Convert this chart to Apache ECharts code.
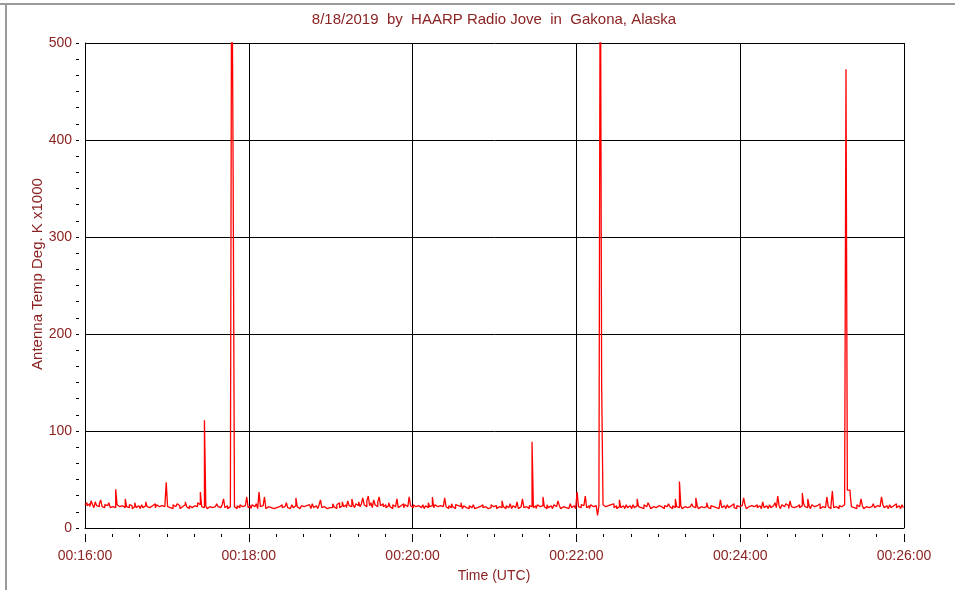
<!DOCTYPE html>
<html>
<head>
<meta charset="utf-8">
<script src="https://cdn.jsdelivr.net/npm/echarts@6/dist/echarts.min.js"></script>
<style>
html,body{margin:0;padding:0;background:#fff;}
#chart{width:955px;height:590px;}
</style>
</head>
<body>
<div id="chart"></div>
<script>
// One sample per second, starting at 00:16:00 UTC
var startLabel = '00:16:00';
var xTickLabels = ['00:16:00','00:18:00','00:20:00','00:22:00','00:24:00','00:26:00'];
var yTickLabels = ['0','100','200','300','400','500'];
var antennaTemp = [
24,26,23,25,22,28,24,21,27,23,22,25,29,22,21,24,23,22,26,21,
22,23,21,40,24,22,20,23,25,21,30,22,21,24,23,20,22,26,21,23,
22,20,24,21,23,27,22,21,20,23,22,25,21,24,22,20,23,21,22,24,
47,22,21,23,20,24,22,21,25,23,20,22,21,24,27,22,20,23,21,22,
23,21,22,26,24,37,22,21,111,23,20,22,24,21,23,22,20,25,22,21,
22,24,30,21,23,20,22,21,650,373,22,20,23,21,24,22,20,23,21,32,
21,23,20,24,22,21,25,20,37,22,23,21,32,20,22,24,21,23,20,22,
21,23,22,20,24,21,22,23,26,21,20,22,24,21,23,31,22,20,21,23,
22,20,23,21,24,22,20,25,21,23,22,20,24,29,21,22,23,20,22,21,
23,21,25,22,20,24,26,21,23,27,22,24,21,28,23,22,30,24,21,25,
23,27,22,25,31,24,22,28,33,23,26,21,29,24,22,27,32,23,25,22,
24,21,23,26,22,20,24,22,23,30,21,23,22,25,21,24,22,20,32,23,
21,24,22,20,23,25,21,22,24,20,23,21,26,22,23,32,21,24,22,20,
23,21,22,24,31,22,20,23,21,25,22,20,24,23,21,22,26,20,23,21,
22,20,23,21,22,24,20,21,23,22,20,24,21,22,23,20,22,21,24,22,
21,23,20,22,24,21,28,22,20,23,21,22,25,20,23,21,22,27,20,22,
23,30,21,22,24,20,23,22,89,21,23,20,24,22,21,23,32,22,20,24,
21,23,22,20,24,22,21,28,23,20,22,24,21,23,20,22,25,21,23,22,
20,37,22,21,24,23,22,33,21,23,20,24,22,21,23,22,13,23,650,147,
24,22,20,23,21,24,22,25,21,23,20,22,29,21,23,22,20,24,21,23,
22,20,24,21,23,30,22,21,23,20,24,22,21,26,23,20,22,24,21,22,
23,21,22,24,20,23,22,21,25,22,20,23,21,30,22,21,48,23,20,22,
24,21,23,22,20,25,22,21,31,23,20,22,24,21,23,22,26,21,20,23,
22,24,21,23,20,22,29,21,23,22,20,24,21,23,22,25,21,20,23,22,
21,23,22,31,24,20,22,21,23,25,22,20,24,21,23,22,20,27,21,23,
22,20,24,21,23,22,26,21,33,23,20,24,22,21,25,23,20,28,22,21,
23,22,20,24,21,23,36,25,22,21,30,23,20,24,22,21,23,22,25,20,
22,24,21,23,32,22,20,23,38,21,22,24,20,23,22,21,24,22,473,39,
39,36,22,21,23,20,24,22,21,30,23,20,22,24,21,23,22,20,25,21,
23,21,22,20,32,24,21,23,22,20,24,21,23,22,25,21,23,22,20,24,
21
];

var seriesData = antennaTemp.map(function(v, i){ return [i, v]; });
var txtColor = '#8b2323';
var font = 'Arial, "Liberation Sans", sans-serif';

var chart = echarts.init(document.getElementById('chart'), null, {renderer:'canvas'});
chart.setOption({
  animation: false,
  backgroundColor: '#fff',
  title: {
    text: '8/18/2019  by  HAARP Radio Jove  in  Gakona, Alaska',
    left: 489, top: 7, textAlign: 'center',
    textStyle: {color: txtColor, fontSize: 15, fontWeight: 'normal', fontFamily: font}
  },
  graphic: [
    {type:'line', shape:{x1:0,y1:4,x2:955,y2:4}, style:{stroke:'#9a9a9a', lineWidth:2}},
    {type:'line', shape:{x1:6,y1:4,x2:6,y2:590}, style:{stroke:'#9a9a9a', lineWidth:2}},
    {type:'text', x:38, y:274, rotation: Math.PI/2,
     style:{text:'Antenna Temp Deg. K x1000', fill: txtColor, font: '15px ' + font, textAlign:'center', textVerticalAlign:'middle'}},
    {type:'text', x:494, y:576,
     style:{text:'Time (UTC)', fill: txtColor, font: '14px ' + font, textAlign:'center', textVerticalAlign:'middle'}}
  ],
  grid: {left: 85, right: 51, top: 43, bottom: 62, containLabel: false},
  xAxis: [
    {type:'value', min:0, max:600, interval:120, position:'bottom',
     axisLine:{show:true, onZero:false, lineStyle:{color:'#000', width:1}},
     axisTick:{show:false}, axisLabel:{show:false},
     splitLine:{show:true, lineStyle:{color:'#000', width:1}}},
    {type:'value', min:0, max:600, interval:120, position:'bottom', offset:6,
     axisLine:{show:false, onZero:false},
     axisTick:{show:true, length:8, lineStyle:{color:'#000'}},
     minorTick:{show:true, splitNumber:6, length:3, lineStyle:{color:'#000'}},
     splitLine:{show:false},
     axisLabel:{show:true, margin:15, color: txtColor, fontSize:14, fontFamily: font,
       formatter:function(v){ return xTickLabels[Math.round(v/120)]; }}}
  ],
  yAxis: [
    {type:'value', min:0, max:500, interval:100, position:'left',
     axisLine:{show:true, onZero:false, lineStyle:{color:'#000', width:1}},
     axisTick:{show:false}, axisLabel:{show:false},
     splitLine:{show:true, lineStyle:{color:'#000', width:1}}},
    {type:'value', min:0, max:500, interval:100, position:'left', offset:6,
     axisLine:{show:false, onZero:false},
     axisTick:{show:true, length:3, lineStyle:{color:'#000'}},
     minorTick:{show:true, splitNumber:6, length:3, lineStyle:{color:'#000'}},
     splitLine:{show:false},
     axisLabel:{show:true, margin:7, color: txtColor, fontSize:14, fontFamily: font,
       formatter:function(v){ return yTickLabels[Math.round(v/100)]; }}}
  ],
  series: [{
    type:'line', xAxisIndex:0, yAxisIndex:0,
    data: seriesData, showSymbol:false, symbol:'none', sampling: null,
    step: 'middle',
    clip:true,
    lineStyle:{color:'#ff0000', width:1.3},
    itemStyle:{color:'#ff0000'}
  }]
});
</script>
</body>
</html>
